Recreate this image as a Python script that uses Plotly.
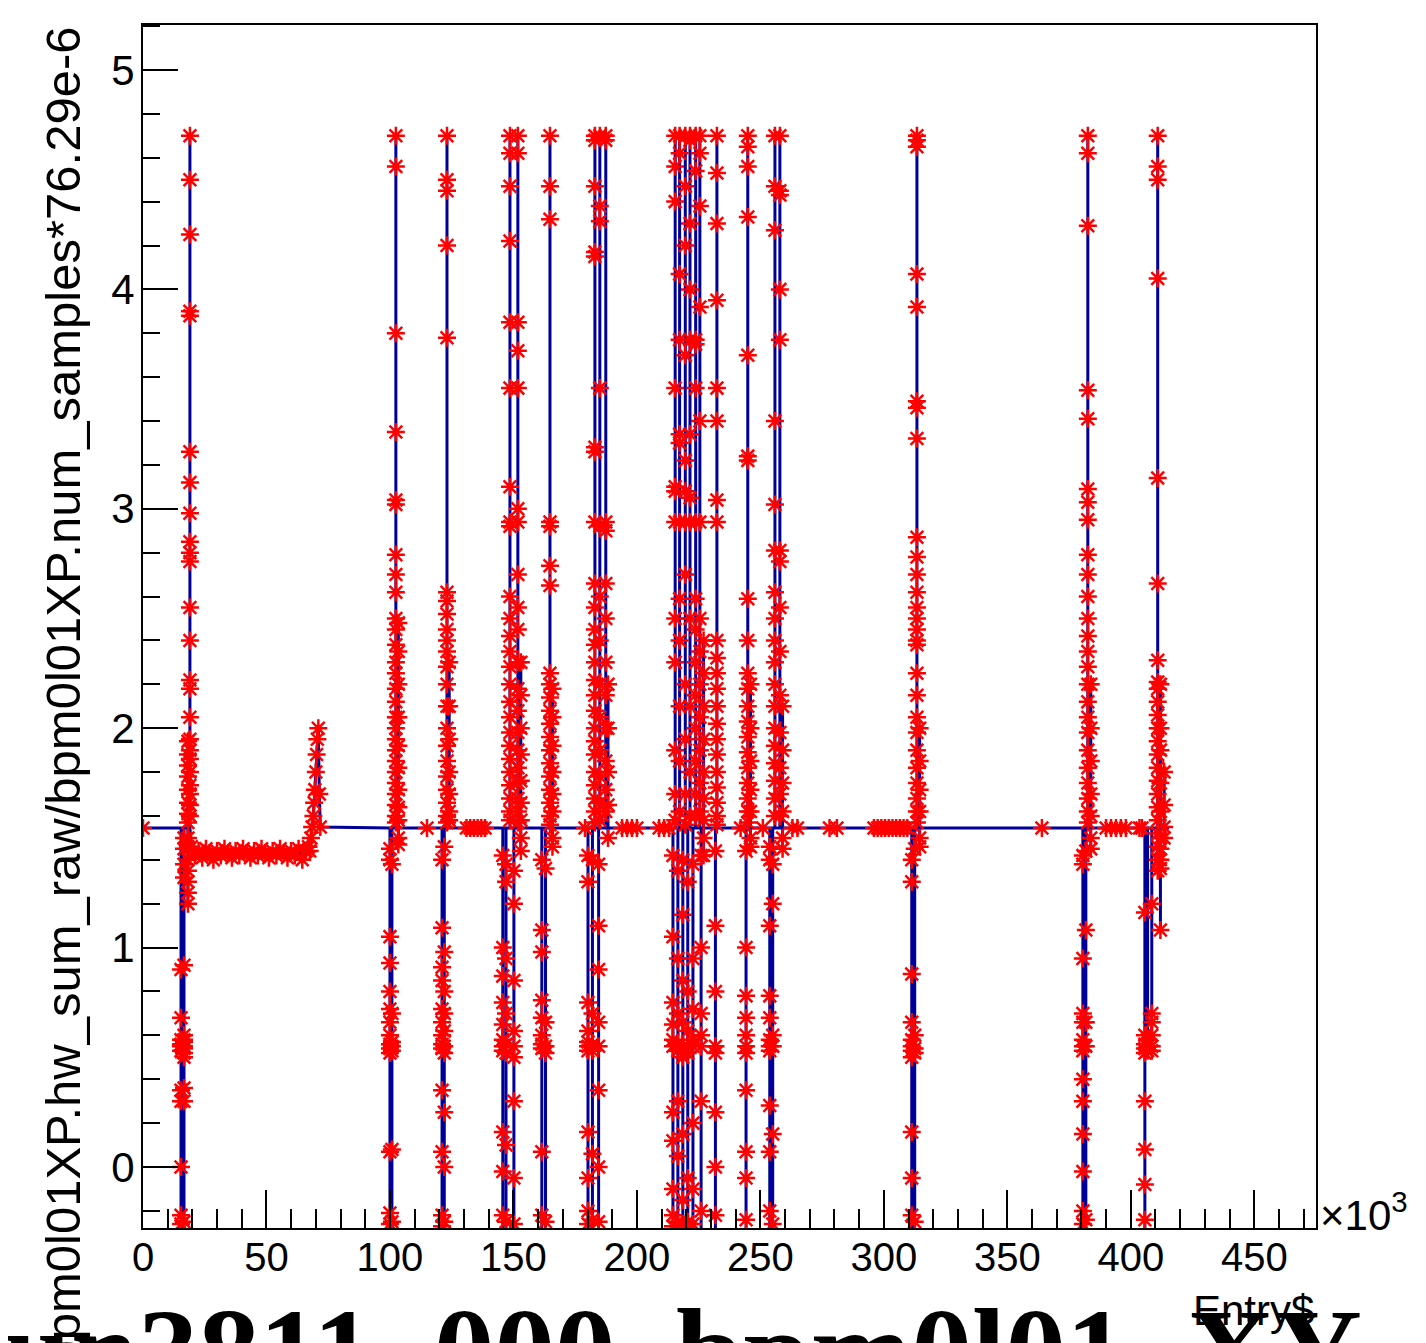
import plotly.graph_objects as go

# ---------------- data (entries in units of 10^3) ----------------
BASELINE = 1.545

x_tick_vals = [0, 50, 100, 150, 200, 250, 300, 350, 400, 450]
x_tick_text = ["0", "50", "100", "150", "200", "250", "300", "350", "400", "450"]
y_tick_vals = [0, 1, 2, 3, 4, 5]
y_tick_text = ["0", "1", "2", "3", "4", "5"]

# excursions away from the baseline: entry position and the sequence of values
spike_x = [
    15.4, 16.6, 18.2, 19.0,
    100.0, 100.8, 102.4, 103.4,
    121.1, 122.0, 123.1, 124.0,
    145.7, 147.0, 148.6, 150.2, 151.8, 153.0,
    161.5, 163.0, 164.8, 165.8,
    180.2, 182.0, 183.0, 184.5, 185.0, 187.4, 188.3,
    214.6, 215.5, 216.6, 217.3, 218.6, 219.6, 220.6, 221.5, 222.7, 223.8, 225.5, 226.0, 227.0,
    231.8, 232.4,
    244.2, 244.9, 246.0,
    253.8, 255.0, 255.9, 257.9, 259.0,
    311.3, 312.5, 313.4, 314.5,
    380.6, 381.8, 382.6, 383.8,
    405.7, 406.8, 408.5, 410.9, 412.0, 413.5,
]
spike_vals = [
    # burst near 17k
    [0.90, 0.68, 0.58, 0.55, 0.53, 0.56, 0.35, 0.30, 0.0, -0.22, -0.26, -0.5],
    [1.50, 1.45, 1.38, 1.32, 0.92, 0.60, 0.55, 0.52, 0.57, 0.54, 0.50, 0.58, 0.36, 0.30, -0.25, -0.5],
    [1.94, 1.88, 1.83, 1.78, 1.72, 1.66, 1.61, 1.57, 1.50, 1.46, 1.40, 1.35, 1.30, 1.25, 1.20],
    [4.70, 4.50, 4.25, 3.90, 3.88, 3.26, 3.12, 2.98, 2.85, 2.80, 2.76, 2.55, 2.40, 2.22, 2.18, 2.05,
     1.95, 1.90, 1.86, 1.80, 1.74, 1.70, 1.65, 1.60],
    # burst near 101k
    [1.45, 1.40, 1.05, 0.93, 0.80, 0.72, 0.66, 0.60, 0.56, 0.54, 0.52, 0.07, -0.21, -0.26, -0.5],
    [1.38, 0.70, 0.57, 0.53, 0.55, 0.08, -0.25, -0.5],
    [4.70, 4.56, 3.80, 3.35, 3.04, 3.02, 2.79, 2.70, 2.62, 2.50, 2.45, 2.38, 2.30, 2.25, 2.18, 2.12,
     2.05, 2.00, 1.95, 1.90, 1.85, 1.80, 1.75, 1.70, 1.65, 1.60, 1.57],
    [2.48, 2.35, 2.20, 2.05, 1.92, 1.82, 1.72, 1.64, 1.58, 1.50, 1.47],
    # burst near 122k
    [1.40, 1.09, 0.91, 0.85, 0.72, 0.66, 0.60, 0.56, 0.54, 0.35, 0.07, -0.22, -0.27, -0.5],
    [1.46, 0.98, 0.80, 0.70, 0.62, 0.55, 0.52, 0.25, 0.0, -0.25, -0.5],
    [4.70, 4.50, 4.45, 4.20, 3.78, 2.62, 2.58, 2.52, 2.45, 2.40, 2.35, 2.28, 2.20, 2.10, 2.00, 1.92,
     1.85, 1.78, 1.72, 1.66, 1.60, 1.57],
    [2.30, 2.10, 1.95, 1.80, 1.70, 1.62, 1.58],
    # burst near 149k
    [1.42, 1.00, 0.87, 0.75, 0.65, 0.58, 0.55, 0.53, 0.16, -0.02, -0.22, -0.5],
    [1.38, 1.30, 0.95, 0.70, 0.56, 0.52, 0.10, -0.25, -0.5],
    [4.70, 4.62, 4.47, 4.22, 3.85, 3.55, 3.10, 2.94, 2.92, 2.60, 2.50, 2.42, 2.35, 2.28, 2.20, 2.12,
     2.05, 1.98, 1.92, 1.86, 1.80, 1.74, 1.68, 1.62, 1.58],
    [1.35, 1.20, 0.85, 0.62, 0.55, 0.50, 0.30, -0.05, -0.26, -0.5],
    [4.70, 4.62, 3.85, 3.72, 3.55, 3.00, 2.94, 2.70, 2.55, 2.45, 2.30, 2.18, 2.08, 1.98, 1.90, 1.82,
     1.75, 1.68, 1.62, 1.57],
    [2.30, 2.15, 2.00, 1.88, 1.76, 1.66, 1.58, 1.50, 1.44],
    # burst near 164k
    [1.40, 1.08, 0.98, 0.76, 0.68, 0.60, 0.56, 0.54, 0.07, -0.22, -0.5],
    [1.36, 0.66, 0.55, 0.52, -0.25, -0.5],
    [4.70, 4.47, 4.32, 2.94, 2.92, 2.74, 2.65, 2.25, 2.20, 2.14, 2.08, 2.02, 1.96, 1.90, 1.84, 1.78,
     1.72, 1.66, 1.60, 1.56],
    [2.18, 2.05, 1.92, 1.80, 1.70, 1.62, 1.50, 1.46],
    # burst near 184k
    [1.42, 1.30, 0.75, 0.62, 0.57, 0.55, 0.53, 0.16, -0.05, -0.20, -0.26, -0.5],
    [1.40, 0.70, 0.56, 0.53, 0.06, -0.24, -0.5],
    [4.70, 4.68, 4.47, 4.17, 4.15, 3.28, 3.26, 2.94, 2.66, 2.55, 2.45, 2.38, 2.30, 2.22, 2.15, 2.08,
     2.00, 1.94, 1.88, 1.80, 1.74, 1.68, 1.62, 1.57],
    [1.38, 1.10, 0.90, 0.66, 0.55, 0.35, 0.0, -0.25, -0.5],
    [4.70, 4.38, 4.31, 3.55, 2.92, 2.60, 2.40, 2.20, 2.05, 1.90, 1.78, 1.66, 1.58],
    [4.70, 4.68, 2.94, 2.90, 2.66, 2.50, 2.30, 2.15, 2.00, 1.85, 1.72, 1.62],
    [2.20, 2.00, 1.80, 1.65, 1.50],
    # burst near 215k-228k
    [1.42, 1.05, 0.75, 0.65, 0.58, 0.55, 0.25, 0.12, -0.10, -0.22, -0.27, -0.5],
    [4.70, 4.56, 4.40, 3.55, 3.10, 3.08, 2.94, 2.50, 2.30, 1.90, 1.70, 1.58],
    [1.35, 0.95, 0.70, 0.56, 0.53, 0.30, 0.05, -0.25, -0.5],
    [4.70, 4.62, 4.07, 3.77, 3.34, 3.30, 2.94, 2.59, 2.40, 2.10, 1.85, 1.62],
    [1.40, 1.15, 0.85, 0.66, 0.55, 0.50, 0.15, -0.15, -0.26, -0.5],
    [4.70, 4.47, 4.20, 3.70, 3.22, 3.08, 2.94, 2.70, 2.20, 1.95, 1.70, 1.56],
    [1.30, 0.80, 0.62, 0.55, 0.52, -0.05, -0.25, -0.5],
    [4.70, 4.68, 4.30, 4.00, 3.77, 3.34, 3.05, 2.94, 2.50, 2.10, 1.80, 1.60],
    [1.38, 0.95, 0.72, 0.58, 0.55, 0.20, -0.10, -0.26, -0.5],
    [4.70, 4.54, 3.77, 3.75, 3.55, 2.94, 2.59, 2.45, 2.30, 2.15, 2.00, 1.85, 1.70, 1.60],
    [4.70, 4.62, 4.38, 3.92, 3.40, 2.94, 2.50, 2.35, 2.20, 2.05, 1.90, 1.75, 1.62],
    [1.42, 1.00, 0.70, 0.60, 0.55, 0.30, -0.20, -0.5],
    [2.40, 2.25, 2.10, 1.95, 1.80, 1.68, 1.58, 1.50, 1.42],
    # burst near 232k
    [1.44, 1.10, 0.80, 0.55, 0.52, 0.25, 0.0, -0.22, -0.5],
    [4.70, 4.53, 4.30, 3.95, 3.55, 3.40, 3.04, 2.94, 2.40, 2.32, 2.25, 2.18, 2.10, 2.02, 1.95, 1.88,
     1.80, 1.73, 1.66, 1.60, 1.56],
    # burst near 245k
    [1.44, 1.00, 0.78, 0.68, 0.60, 0.55, 0.52, 0.35, 0.07, -0.05, -0.24, -0.5],
    [4.70, 4.65, 4.56, 4.33, 3.70, 3.24, 3.22, 2.59, 2.40, 2.25, 2.18, 2.10, 2.03, 1.96, 1.89, 1.82,
     1.75, 1.68, 1.62, 1.57],
    [2.20, 2.00, 1.85, 1.72, 1.62, 1.50, 1.46],
    # burst near 256k
    [1.46, 1.40, 1.10, 0.78, 0.68, 0.58, 0.55, 0.53, 0.28, 0.07, -0.20, -0.5],
    [1.38, 1.20, 0.60, 0.55, 0.15, -0.26, -0.5],
    [4.70, 4.47, 4.27, 3.40, 3.02, 2.81, 2.62, 2.50, 2.40, 2.30, 2.20, 2.10, 2.00, 1.92, 1.84, 1.76,
     1.68, 1.60],
    [4.70, 4.45, 4.43, 4.00, 3.77, 2.81, 2.76, 2.55, 2.35, 2.15, 1.98, 1.82, 1.70, 1.60],
    [2.10, 1.90, 1.75, 1.62, 1.50, 1.45],
    # burst near 313k
    [1.40, 1.30, 0.88, 0.66, 0.58, 0.55, 0.53, 0.50, 0.16, -0.05, -0.22, -0.5],
    [1.45, 0.60, 0.54, 0.52, -0.25, -0.5],
    [4.70, 4.68, 4.65, 4.07, 3.92, 3.49, 3.46, 3.32, 2.87, 2.78, 2.70, 2.62, 2.55, 2.50, 2.45, 2.40,
     2.38, 2.25, 2.15, 2.05, 1.98, 1.90, 1.82, 1.75, 1.68, 1.62, 1.57],
    [2.00, 1.85, 1.72, 1.62, 1.50, 1.46],
    # burst near 382k
    [1.42, 1.38, 0.95, 0.70, 0.66, 0.58, 0.55, 0.53, 0.40, 0.30, 0.15, -0.02, -0.20, -0.26, -0.5],
    [1.44, 1.08, 0.66, 0.55, -0.24, -0.5],
    [4.70, 4.62, 4.29, 3.54, 3.41, 3.09, 3.03, 2.95, 2.79, 2.70, 2.60, 2.50, 2.42, 2.35, 2.28, 2.20,
     2.12, 2.05, 1.98, 1.90, 1.82, 1.75, 1.68, 1.62, 1.57],
    [2.20, 2.00, 1.85, 1.70, 1.60, 1.50, 1.45],
    # burst near 409k
    [1.16, 0.60, 0.56, 0.54, 0.52, 0.30, 0.08, -0.08, -0.24, -0.5],
    [0.58, 0.55, 0.53],
    [1.20, 0.70, 0.66, 0.60, 0.55, 0.53],
    [4.70, 4.56, 4.50, 4.05, 3.14, 2.66, 2.31, 2.21, 2.18, 2.12, 2.06, 2.00, 1.94, 1.88, 1.82, 1.76,
     1.70, 1.64, 1.58, 1.52, 1.46, 1.40, 1.35],
    [2.20, 2.00, 1.90, 1.75, 1.62, 1.50, 1.45, 1.40, 1.36, 1.08],
    [1.80, 1.65, 1.55, 1.50],
]

# lowered plateau between ~20k and ~67k
plateau_x = [19.6, 21, 22.5, 24, 25.5, 27, 28.5, 30, 31.5, 33, 34.5, 36, 37.5, 39, 40.5, 42, 43.5,
             45, 46.5, 48, 49.5, 51, 52.5, 54, 55.5, 57, 58.5, 60, 61.5, 63, 64.5, 66, 67]
plateau_y = [1.46, 1.42, 1.44, 1.41, 1.45, 1.43, 1.40, 1.44, 1.42, 1.45, 1.43, 1.41, 1.44, 1.42,
             1.45, 1.43, 1.41, 1.44, 1.42, 1.45, 1.43, 1.41, 1.44, 1.42, 1.45, 1.43, 1.41, 1.44,
             1.42, 1.45, 1.40, 1.44, 1.46]

# recovery ramp around 68k-72k
ramp_x = [67.5, 68.0, 68.5, 69.0, 69.3, 69.6, 70.0, 70.3, 70.6, 71.0, 71.4, 71.8]
ramp_y = [1.44, 1.50, 1.55, 1.60, 1.66, 1.72, 1.80, 1.88, 1.95, 2.00, 1.70, 1.55]

# flagged entries sitting on the baseline
baseline_marker_x = [0, 115, 131, 132.5, 134, 135.5, 137, 138.5, 179, 194, 196, 198, 200, 209,
                     211, 213, 242, 251, 263, 265, 278, 281, 296, 297.5, 299, 300.5, 302, 303.5,
                     305, 306.5, 308, 309.5, 364, 390, 392, 394, 396, 398, 403.5, 404.5]

last_entry = 415.5

# ---------------- build the series ----------------
segments = []
for sx, vals in zip(spike_x, spike_vals):
    segments.append((sx, [sx] * len(vals), list(vals), True))
segments.append((plateau_x[0], plateau_x, plateau_y, False))
segments.append((ramp_x[0], ramp_x, ramp_y, False))
segments.sort(key=lambda s: s[0])

line_x, line_y = [0.0], [BASELINE]
mark_x, mark_y = [], []
for start, xs, ys, is_spike in segments:
    if is_spike:
        line_x += [start] + xs + [start]
        line_y += [BASELINE] + ys + [BASELINE]
    else:
        line_x += xs
        line_y += ys
    mark_x += xs
    mark_y += ys
line_x.append(last_entry)
line_y.append(BASELINE)
mark_x += baseline_marker_x
mark_y += [BASELINE] * len(baseline_marker_x)

# ---------------- figure ----------------
fig = go.Figure()
fig.add_trace(go.Scatter(x=line_x, y=line_y, mode="lines",
                         line=dict(color="#000099", width=3), hoverinfo="skip"))
fig.add_trace(go.Scatter(x=mark_x, y=mark_y, mode="markers",
                         marker=dict(symbol="asterisk-open", size=15, color="#ff0000",
                                     line=dict(color="#ff0000", width=2.5)),
                         hoverinfo="skip"))

axis_font = "Liberation Sans, Arial, Helvetica, sans-serif"
fig.update_layout(
    width=1426, height=1343,
    margin=dict(l=135, r=118, t=17, b=123),
    paper_bgcolor="white", plot_bgcolor="white",
    showlegend=False,
    font=dict(family=axis_font, color="black"),
)
fig.update_xaxes(
    range=[0, 475], tickmode="array", tickvals=x_tick_vals, ticktext=x_tick_text,
    ticks="inside", ticklen=38, tickwidth=2, tickcolor="black",
    showline=True, linecolor="black", linewidth=2, mirror=True,
    showgrid=False, zeroline=False, tickfont=dict(size=40, family=axis_font),
    ticklabelstandoff=-7,
    minor=dict(ticks="inside", ticklen=19, tickwidth=2, tickcolor="black",
               tickmode="linear", tick0=0, dtick=10, showgrid=False),
)
fig.update_yaxes(
    range=[-0.278, 5.205], tickmode="array", tickvals=y_tick_vals, ticktext=y_tick_text,
    ticks="inside", ticklen=35, tickwidth=2, tickcolor="black",
    showline=True, linecolor="black", linewidth=2, mirror=True,
    showgrid=False, zeroline=False, tickfont=dict(size=42, family=axis_font),
    ticklabelstandoff=-2,
    minor=dict(ticks="inside", ticklen=17, tickwidth=2, tickcolor="black",
               tickmode="linear", tick0=0, dtick=0.2, showgrid=False),
)

fig.add_annotation(
    text="bpm0l01XP.hw_sum_raw/bpm0l01XP.num_samples*76.29e-6",
    xref="paper", yref="paper", x=-0.069, y=1.0, xanchor="center", yanchor="top",
    textangle=-90, showarrow=False, font=dict(size=49, family=axis_font, color="black"),
)
fig.add_annotation(
    text="Entry$", xref="paper", yref="paper", x=1.0, y=-0.0682,
    xanchor="right", yanchor="middle", showarrow=False,
    font=dict(size=42, family=axis_font, color="black"),
)
fig.add_annotation(
    text="×10<sup>3</sup>", xref="paper", yref="paper", x=1.0017, y=0.0133,
    xanchor="left", yanchor="middle", showarrow=False,
    font=dict(size=42, family=axis_font, color="black"),
)
fig.add_annotation(
    text="<b>run3811_000_bpm0l01_XY</b>", xref="paper", yref="paper", x=0.437, y=-0.0449,
    xanchor="center", yanchor="top", showarrow=False,
    font=dict(size=121, family="Liberation Serif, Times New Roman, serif", color="black"),
)

fig.write_html("out.html")
